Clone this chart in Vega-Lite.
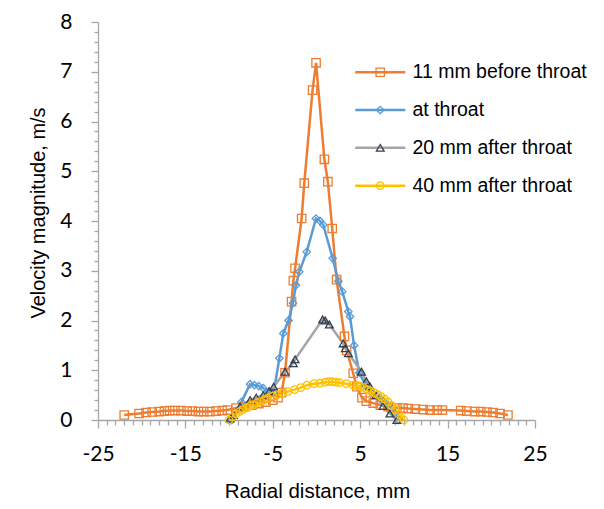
{
  "$schema": "https://vega.github.io/schema/vega-lite/v6.json",
  "width": 437,
  "height": 398,
  "autosize": {"type": "none"},
  "padding": {"left": 98, "top": 22, "right": 69, "bottom": 89},
  "background": "white",
  "config": {"view": {"stroke": null}, "font": "Liberation Sans"},
  "data": {"values": [
    {"s":"11 mm before throat","x":-22,"v":0.10},{"s":"11 mm before throat","x":-20.3,"v":0.13},{"s":"11 mm before throat","x":-19.5,"v":0.15},{"s":"11 mm before throat","x":-18.8,"v":0.16},{"s":"11 mm before throat","x":-18.0,"v":0.17},{"s":"11 mm before throat","x":-17.4,"v":0.18},{"s":"11 mm before throat","x":-16.8,"v":0.19},{"s":"11 mm before throat","x":-16.2,"v":0.19},{"s":"11 mm before throat","x":-15.5,"v":0.19},{"s":"11 mm before throat","x":-14.8,"v":0.18},{"s":"11 mm before throat","x":-14.2,"v":0.18},{"s":"11 mm before throat","x":-13.5,"v":0.17},{"s":"11 mm before throat","x":-12.9,"v":0.17},{"s":"11 mm before throat","x":-12.2,"v":0.17},{"s":"11 mm before throat","x":-11.5,"v":0.18},{"s":"11 mm before throat","x":-10.8,"v":0.19},{"s":"11 mm before throat","x":-10.2,"v":0.20},{"s":"11 mm before throat","x":-9.2,"v":0.24},{"s":"11 mm before throat","x":-8.3,"v":0.27},{"s":"11 mm before throat","x":-7.4,"v":0.30},{"s":"11 mm before throat","x":-6.6,"v":0.33},{"s":"11 mm before throat","x":-5.8,"v":0.36},{"s":"11 mm before throat","x":-5.0,"v":0.40},{"s":"11 mm before throat","x":-4.4,"v":0.45},{"s":"11 mm before throat","x":-4.0,"v":0.55},{"s":"11 mm before throat","x":-3.6,"v":0.95},{"s":"11 mm before throat","x":-2.85,"v":2.38},{"s":"11 mm before throat","x":-2.65,"v":2.80},{"s":"11 mm before throat","x":-2.45,"v":3.05},{"s":"11 mm before throat","x":-1.7,"v":4.05},{"s":"11 mm before throat","x":-1.4,"v":4.76},{"s":"11 mm before throat","x":-0.45,"v":6.63},{"s":"11 mm before throat","x":-0.05,"v":7.18},{"s":"11 mm before throat","x":0.9,"v":5.24},{"s":"11 mm before throat","x":1.3,"v":4.79},{"s":"11 mm before throat","x":1.8,"v":3.85},{"s":"11 mm before throat","x":2.3,"v":2.82},{"s":"11 mm before throat","x":3.2,"v":1.68},{"s":"11 mm before throat","x":3.45,"v":1.40},{"s":"11 mm before throat","x":4.2,"v":0.94},{"s":"11 mm before throat","x":4.6,"v":0.67},{"s":"11 mm before throat","x":5.2,"v":0.45},{"s":"11 mm before throat","x":5.7,"v":0.38},{"s":"11 mm before throat","x":6.5,"v":0.34},{"s":"11 mm before throat","x":7.3,"v":0.30},{"s":"11 mm before throat","x":8.2,"v":0.27},{"s":"11 mm before throat","x":9.2,"v":0.24},{"s":"11 mm before throat","x":9.9,"v":0.24},{"s":"11 mm before throat","x":10.5,"v":0.23},{"s":"11 mm before throat","x":11.3,"v":0.22},{"s":"11 mm before throat","x":12.2,"v":0.21},{"s":"11 mm before throat","x":13.0,"v":0.20},{"s":"11 mm before throat","x":13.8,"v":0.20},{"s":"11 mm before throat","x":14.4,"v":0.20},{"s":"11 mm before throat","x":16.5,"v":0.19},{"s":"11 mm before throat","x":17.2,"v":0.18},{"s":"11 mm before throat","x":18.1,"v":0.17},{"s":"11 mm before throat","x":18.8,"v":0.17},{"s":"11 mm before throat","x":19.5,"v":0.16},{"s":"11 mm before throat","x":20.2,"v":0.15},{"s":"11 mm before throat","x":21.0,"v":0.13},{"s":"11 mm before throat","x":21.9,"v":0.10},
    {"s":"at throat","x":-9.7,"v":0.0},{"s":"at throat","x":-8.6,"v":0.36},{"s":"at throat","x":-7.6,"v":0.72},{"s":"at throat","x":-7.1,"v":0.70},{"s":"at throat","x":-6.6,"v":0.68},{"s":"at throat","x":-6.1,"v":0.64},{"s":"at throat","x":-5.5,"v":0.57},{"s":"at throat","x":-4.9,"v":0.55},{"s":"at throat","x":-4.25,"v":1.24},{"s":"at throat","x":-3.8,"v":1.74},{"s":"at throat","x":-3.2,"v":2.0},{"s":"at throat","x":-2.7,"v":2.35},{"s":"at throat","x":-2.35,"v":2.71},{"s":"at throat","x":-1.97,"v":2.98},{"s":"at throat","x":-1.12,"v":3.38},{"s":"at throat","x":-0.06,"v":4.05},{"s":"at throat","x":0.4,"v":4.0},{"s":"at throat","x":0.78,"v":3.92},{"s":"at throat","x":1.85,"v":3.25},{"s":"at throat","x":2.5,"v":2.79},{"s":"at throat","x":2.95,"v":2.58},{"s":"at throat","x":3.64,"v":2.18},{"s":"at throat","x":3.83,"v":2.08},{"s":"at throat","x":4.3,"v":1.5},{"s":"at throat","x":4.9,"v":0.95},{"s":"at throat","x":5.6,"v":0.7},{"s":"at throat","x":6.3,"v":0.55},{"s":"at throat","x":7.0,"v":0.47},{"s":"at throat","x":7.6,"v":0.38},{"s":"at throat","x":8.3,"v":0.28},{"s":"at throat","x":8.9,"v":0.14},{"s":"at throat","x":9.4,"v":0.0},
    {"s":"20 mm after throat","x":-9.9,"v":0.03},{"s":"20 mm after throat","x":-9.5,"v":0.1},{"s":"20 mm after throat","x":-8.75,"v":0.27},{"s":"20 mm after throat","x":-7.6,"v":0.40},{"s":"20 mm after throat","x":-6.9,"v":0.45},{"s":"20 mm after throat","x":-6.1,"v":0.50},{"s":"20 mm after throat","x":-5.4,"v":0.58},{"s":"20 mm after throat","x":-4.9,"v":0.67},{"s":"20 mm after throat","x":-3.6,"v":0.97},{"s":"20 mm after throat","x":-2.65,"v":1.14},{"s":"20 mm after throat","x":-2.45,"v":1.22},{"s":"20 mm after throat","x":0.7,"v":2.02},{"s":"20 mm after throat","x":1.0,"v":2.0},{"s":"20 mm after throat","x":1.47,"v":1.92},{"s":"20 mm after throat","x":3.05,"v":1.54},{"s":"20 mm after throat","x":3.3,"v":1.44},{"s":"20 mm after throat","x":3.65,"v":1.34},{"s":"20 mm after throat","x":5.15,"v":0.97},{"s":"20 mm after throat","x":5.7,"v":0.78},{"s":"20 mm after throat","x":6.1,"v":0.68},{"s":"20 mm after throat","x":6.8,"v":0.5},{"s":"20 mm after throat","x":7.6,"v":0.28},{"s":"20 mm after throat","x":8.4,"v":0.13},{"s":"20 mm after throat","x":9.2,"v":0.0},
    {"s":"40 mm after throat","x":-10.0,"v":0.0},{"s":"40 mm after throat","x":-9.6,"v":0.06},{"s":"40 mm after throat","x":-9.2,"v":0.12},{"s":"40 mm after throat","x":-8.8,"v":0.17},{"s":"40 mm after throat","x":-8.4,"v":0.21},{"s":"40 mm after throat","x":-8.0,"v":0.25},{"s":"40 mm after throat","x":-7.6,"v":0.28},{"s":"40 mm after throat","x":-7.2,"v":0.31},{"s":"40 mm after throat","x":-6.8,"v":0.34},{"s":"40 mm after throat","x":-6.4,"v":0.37},{"s":"40 mm after throat","x":-6.0,"v":0.40},{"s":"40 mm after throat","x":-5.6,"v":0.44},{"s":"40 mm after throat","x":-5.0,"v":0.48},{"s":"40 mm after throat","x":-4.5,"v":0.51},{"s":"40 mm after throat","x":-3.9,"v":0.54},{"s":"40 mm after throat","x":-3.3,"v":0.57},{"s":"40 mm after throat","x":-2.5,"v":0.61},{"s":"40 mm after throat","x":-1.8,"v":0.65},{"s":"40 mm after throat","x":-1.1,"v":0.70},{"s":"40 mm after throat","x":-0.3,"v":0.73},{"s":"40 mm after throat","x":0.4,"v":0.74},{"s":"40 mm after throat","x":1.0,"v":0.76},{"s":"40 mm after throat","x":1.4,"v":0.77},{"s":"40 mm after throat","x":1.8,"v":0.77},{"s":"40 mm after throat","x":2.2,"v":0.76},{"s":"40 mm after throat","x":2.6,"v":0.75},{"s":"40 mm after throat","x":3.4,"v":0.73},{"s":"40 mm after throat","x":4.2,"v":0.70},{"s":"40 mm after throat","x":4.6,"v":0.69},{"s":"40 mm after throat","x":5.0,"v":0.67},{"s":"40 mm after throat","x":5.4,"v":0.65},{"s":"40 mm after throat","x":5.8,"v":0.61},{"s":"40 mm after throat","x":6.2,"v":0.58},{"s":"40 mm after throat","x":6.6,"v":0.55},{"s":"40 mm after throat","x":7.0,"v":0.51},{"s":"40 mm after throat","x":7.4,"v":0.47},{"s":"40 mm after throat","x":7.8,"v":0.42},{"s":"40 mm after throat","x":8.2,"v":0.36},{"s":"40 mm after throat","x":8.6,"v":0.29},{"s":"40 mm after throat","x":9.0,"v":0.21},{"s":"40 mm after throat","x":9.4,"v":0.12},{"s":"40 mm after throat","x":9.7,"v":0.05},{"s":"40 mm after throat","x":10.0,"v":0.0}
  ]},
  "encoding": {
    "x": {
      "field": "x", "type": "quantitative",
      "scale": {"domain": [-25, 25], "nice": false, "zero": false},
      "axis": {
        "values": [-25,-24,-23,-22,-21,-20,-19,-18,-17,-16,-15,-14,-13,-12,-11,-10,-9,-8,-7,-6,-5,-4,-3,-2,-1,0,1,2,3,4,5,6,7,8,9,10,11,12,13,14,15,16,17,18,19,20,21,22,23,24,25],
        "labelExpr": "(datum.value + 25) % 10 == 0 ? '' + datum.value : ''",
        "tickSize": {"condition": {"test": "(datum.value + 25) % 10 == 0", "value": 8}, "value": 5},
        "grid": false,
        "domainColor": "#A6A6A6", "tickColor": "#A6A6A6", "domainWidth": 1.3, "tickWidth": 1.3,
        "labelFont": "Lato", "labelFontSize": 21, "labelColor": "black", "labelPadding": 15,
        "labelOverlap": false, "labelFlush": false, "labelBound": false,
        "title": "Radial distance, mm",
        "titleFont": "Liberation Sans", "titleFontSize": 20.5, "titleFontWeight": "normal", "titleColor": "black",
        "titleX": 219, "titleY": 77, "titleBaseline": "alphabetic", "titleAlign": "center"
      }
    },
    "y": {
      "field": "v", "type": "quantitative",
      "scale": {"domain": [0, 8], "nice": false},
      "axis": {
        "values": [0,0.2,0.4,0.6,0.8,1,1.2,1.4,1.6,1.8,2,2.2,2.4,2.6,2.8,3,3.2,3.4,3.6,3.8,4,4.2,4.4,4.6,4.8,5,5.2,5.4,5.6,5.8,6,6.2,6.4,6.6,6.8,7,7.2,7.4,7.6,7.8,8],
        "labelExpr": "abs(datum.value - round(datum.value)) < 0.01 ? '' + round(datum.value) : ''",
        "tickSize": {"condition": {"test": "abs(datum.value - round(datum.value)) < 0.01", "value": 7}, "value": 4},
        "grid": false,
        "domainColor": "#A6A6A6", "tickColor": "#A6A6A6", "domainWidth": 1.3, "tickWidth": 1.3,
        "labelFont": "Lato", "labelFontSize": 21, "labelColor": "black", "labelPadding": 19,
        "labelOverlap": false, "labelFlush": false, "labelBound": false,
        "title": "Velocity magnitude, m/s",
        "titleFont": "Liberation Sans", "titleFontSize": 20, "titleFontWeight": "normal", "titleColor": "black",
        "titleX": -54, "titleY": 190.5, "titleBaseline": "alphabetic", "titleAlign": "center", "titleAngle": -90
      }
    }
  },
  "layer": [
    {
      "mark": {"type": "line", "strokeWidth": 2.5},
      "encoding": {
        "color": {
          "field": "s", "type": "nominal",
          "scale": {"domain": ["11 mm before throat", "at throat", "20 mm after throat", "40 mm after throat"], "range": ["#ED7D31", "#5B9BD5", "#A5A5A5", "#FFC000"]},
          "legend": {
            "title": null, "orient": "none", "legendX": 272.5, "legendY": 40.5, "padding": 0,
            "symbolType": "M-5,0H5", "symbolSize": 100, "symbolStrokeWidth": 2.5,
            "labelFont": "Liberation Sans", "labelFontSize": 19.5, "labelColor": "black", "labelOffset": 22.5, "labelLimit": 400,
            "rowPadding": 16.8
          }
        }
      }
    },
    {
      "mark": {"type": "point", "filled": false, "strokeWidth": 1.3, "opacity": 1},
      "encoding": {
        "color": {
          "field": "s", "type": "nominal",
          "scale": {"domain": ["11 mm before throat", "at throat", "20 mm after throat", "40 mm after throat"], "range": ["#ED7D31", "#5B9BD5", "#333F50", "#FFC000"]},
          "legend": {
            "title": null, "orient": "none", "legendX": 272.5, "legendY": 40.5, "padding": 0,
            "symbolSize": 60, "symbolStrokeWidth": 1.3, "symbolFillColor": "white",
            "labelFont": "Liberation Sans", "labelFontSize": 19.5, "labelColor": "transparent", "labelOffset": 22.5, "labelLimit": 400,
            "rowPadding": 16.8
          }
        },
        "shape": {
          "field": "s", "type": "nominal",
          "scale": {"domain": ["11 mm before throat", "at throat", "20 mm after throat", "40 mm after throat"], "range": ["square", "diamond", "triangle-up", "circle"]},
          "legend": {
            "title": null, "orient": "none", "legendX": 272.5, "legendY": 40.5, "padding": 0,
            "symbolSize": 60, "symbolStrokeWidth": 1.3, "symbolFillColor": "white",
            "labelFont": "Liberation Sans", "labelFontSize": 19.5, "labelColor": "transparent", "labelOffset": 22.5, "labelLimit": 400,
            "rowPadding": 16.8
          }
        },
        "size": {
          "field": "s", "type": "nominal",
          "scale": {"type": "ordinal", "domain": ["11 mm before throat", "at throat", "20 mm after throat", "40 mm after throat"], "range": [70, 55, 60, 55]},
          "legend": null
        }
      }
    }
  ],
  "resolve": {"scale": {"color": "independent", "shape": "independent", "size": "independent"}}
}
